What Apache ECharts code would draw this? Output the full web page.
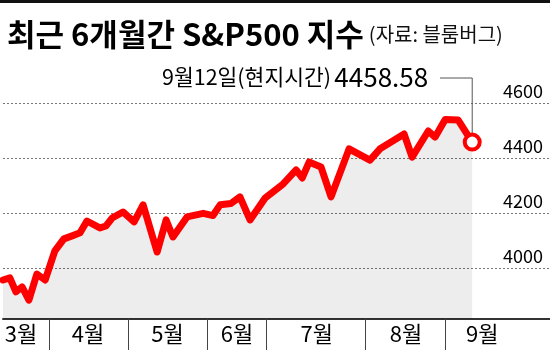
<!DOCTYPE html>
<html>
<head>
<meta charset="utf-8">
<script src="https://cdn.jsdelivr.net/npm/echarts@6/dist/echarts.min.js"></script>
<style>
html,body{margin:0;padding:0;background:#fff;}
#c{width:550px;height:350px;}
</style>
</head>
<body>
<div id="c"></div>
<script>
// Trading-day position (approx.) and S&P500 index values
const days = [0,1.9,3.6,5.3,7.2,9.4,11.7,14.4,16.9,19.2,21.4,23.3,26.9,28.6,30.3,33.3,36.4,38.9,42.8,45.3,47.2,51.1,55.6,58.3,60.3,63.3,65.8,68.6,72.8,77.8,81.4,83.1,85,88.3,91.1,96.1,101.9,104.7,111.4,113.6,118.1,120,122.8,126.4,130.3];
const values = [3956,3964,3913,3931,3883,3978,3956,4062,4106,4117,4128,4171,4146,4153,4182,4204,4168,4230,4058,4175,4113,4186,4199,4191,4230,4235,4259,4175,4255,4306,4357,4328,4386,4368,4259,4434,4393,4434,4488,4404,4499,4477,4541,4539,4458.58];
// Month boundaries and labels
const monthBounds = [12.8,34.7,56.7,73.1,100.6,122.8];
const monthLabelPos = [5,23.6,45.7,65,87.1,111.9,133.1];
const monthLabels = ['3월','4월','5월','6월','7월','8월','9월'];
// Y-axis ticks
const yTicks = [4000,4200,4400,4600];
const titleText = '최근 6개월간 S&P500 지수';
const sourceText = '(자료: 블룸버그)';
const noteText = '9월12일(현지시간)';

const KR = "'Noto Sans CJK KR', 'Noto Sans', sans-serif";
const lastIdx = values.length - 1;
const seriesData = days.map((d, i) => {
  if (i === lastIdx) {
    return {value: [d, values[i]], symbol: 'circle', symbolSize: 15,
      itemStyle: {color: '#ffffff', borderColor: '#ff0000', borderWidth: 4}};
  }
  return [d, values[i]];
});

const chart = echarts.init(document.getElementById('c'));
chart.setOption({
  animation: false,
  backgroundColor: '#ffffff',
  title: {
    left: 2, top: 11,
    text: '{a|' + titleText + '} {b|' + sourceText + '}',
    textStyle: {
      rich: {
        a: {fontFamily: KR, fontSize: 31, fontWeight: 'bold', color: '#000', verticalAlign: 'middle', lineHeight: 36},
        b: {fontFamily: KR, fontSize: 20, fontWeight: 'normal', color: '#111', verticalAlign: 'middle', lineHeight: 36}
      }
    }
  },
  grid: {left: 3, right: 0, top: 103.3, bottom: 31, containLabel: false},
  xAxis: {
    type: 'value', min: 0, max: 151.9,
    axisLine: {show: true, lineStyle: {color: '#333', width: 2}},
    splitLine: {show: false},
    axisTick: {show: true, customValues: monthBounds, length: 31, lineStyle: {color: '#444', width: 1}},
    axisLabel: {
      show: true, customValues: monthLabelPos, margin: 4,
      fontFamily: KR, fontSize: 22, color: '#000',
      formatter: v => { const i = monthLabelPos.indexOf(v); return i >= 0 ? monthLabels[i] : ''; }
    }
  },
  yAxis: {
    type: 'value', position: 'right', min: 3814, max: 4600,
    axisLine: {show: false},
    axisTick: {show: false, customValues: yTicks},
    axisLabel: {
      show: true, inside: true, customValues: yTicks, margin: 7,
      fontFamily: KR, fontSize: 18, color: '#000', verticalAlign: 'bottom',
      padding: [0, 0, 3, 0],
      formatter: v => String(v)
    },
    splitLine: {show: true, lineStyle: {color: '#777', type: [2, 2], width: 1}}
  },
  series: [{
    type: 'line',
    data: seriesData,
    symbol: 'none',
    showSymbol: true,
    lineStyle: {color: '#ff0000', width: 7, join: 'round', cap: 'round'},
    itemStyle: {color: '#ff0000'},
    areaStyle: {color: 'rgba(0,0,0,0.1)', origin: 'start'},
    z: 3
  }]
});

const pt = chart.convertToPixel({seriesIndex: 0}, [days[lastIdx], values[lastIdx]]);
chart.setOption({
  graphic: [
    {type: 'rect', left: 0, top: 0, shape: {x: 0, y: 0, width: 550, height: 3}, style: {fill: '#111'}},
    {type: 'text', x: 162, y: 77,
      style: {
        text: '{a|' + noteText + '} {b|' + values[lastIdx].toFixed(2) + '}',
        verticalAlign: 'middle',
        rich: {
          a: {fontFamily: KR, fontSize: 21.5, fill: '#000', verticalAlign: 'middle'},
          b: {fontFamily: KR, fontSize: 26, fill: '#000', verticalAlign: 'middle'}
        }
      }
    },
    {type: 'polyline', shape: {points: [[440, 78], [pt[0], 78], [pt[0], pt[1] - 8]]},
      style: {stroke: '#555', lineWidth: 1, fill: null}}
  ]
});
</script>
</body>
</html>
